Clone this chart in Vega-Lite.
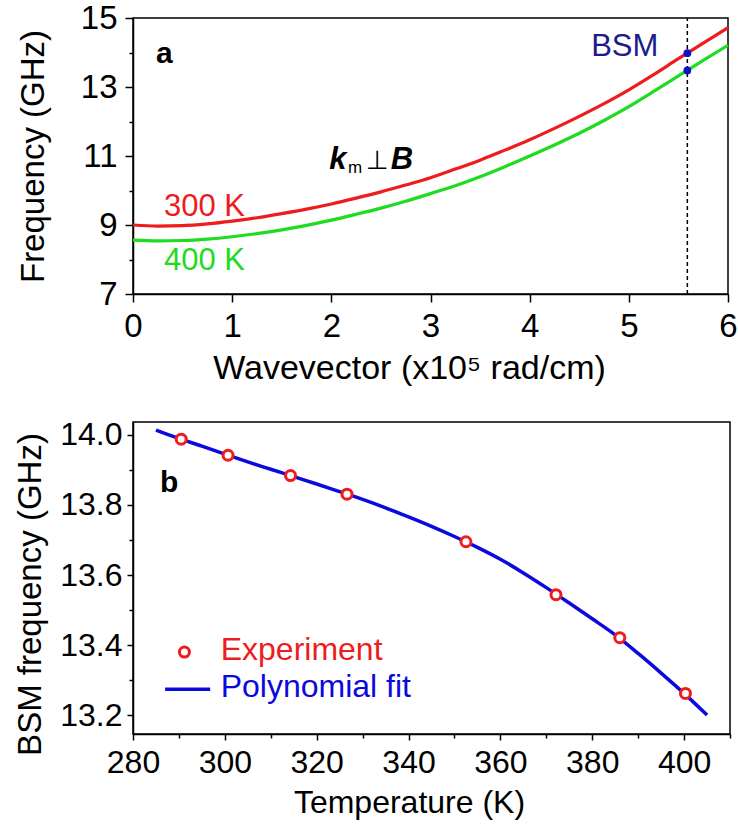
{
  "$schema": "https://vega.github.io/schema/vega-lite/v6.json",
  "bounds": "flush",
  "spacing": 128,
  "padding": {"top": 1, "left": 13, "right": 0, "bottom": 2},
  "config": {
    "font": "Liberation Sans",
    "view": {"stroke": "black", "strokeWidth": 1.5},
    "axis": {
      "grid": false, "domainColor": "black", "tickColor": "black", "labelColor": "black", "titleColor": "black",
      "domainWidth": 1.5, "tickWidth": 1.5, "labelFont": "Liberation Sans", "titleFont": "Liberation Sans",
      "titleFontWeight": "normal", "labelFlush": false, "labelOverlap": false
    }
  },
  "datasets": {
    "curves": [
      {"k": 0, "f": 9.00, "T": "300 K"}, {"k": 0.25, "f": 8.97, "T": "300 K"}, {"k": 0.5, "f": 8.98, "T": "300 K"},
      {"k": 0.75, "f": 9.03, "T": "300 K"}, {"k": 1, "f": 9.11, "T": "300 K"}, {"k": 1.25, "f": 9.21, "T": "300 K"},
      {"k": 1.5, "f": 9.33, "T": "300 K"}, {"k": 1.75, "f": 9.46, "T": "300 K"}, {"k": 2, "f": 9.61, "T": "300 K"},
      {"k": 2.25, "f": 9.78, "T": "300 K"}, {"k": 2.5, "f": 9.96, "T": "300 K"}, {"k": 2.75, "f": 10.16, "T": "300 K"},
      {"k": 3, "f": 10.37, "T": "300 K"}, {"k": 3.25, "f": 10.62, "T": "300 K"}, {"k": 3.5, "f": 10.88, "T": "300 K"},
      {"k": 3.75, "f": 11.17, "T": "300 K"}, {"k": 4, "f": 11.47, "T": "300 K"}, {"k": 4.25, "f": 11.80, "T": "300 K"},
      {"k": 4.5, "f": 12.15, "T": "300 K"}, {"k": 4.75, "f": 12.52, "T": "300 K"}, {"k": 5, "f": 12.92, "T": "300 K"},
      {"k": 5.25, "f": 13.36, "T": "300 K"}, {"k": 5.5, "f": 13.82, "T": "300 K"}, {"k": 5.75, "f": 14.27, "T": "300 K"},
      {"k": 6, "f": 14.72, "T": "300 K"},
      {"k": 0, "f": 8.56, "T": "400 K"}, {"k": 0.25, "f": 8.54, "T": "400 K"}, {"k": 0.5, "f": 8.55, "T": "400 K"},
      {"k": 0.75, "f": 8.59, "T": "400 K"}, {"k": 1, "f": 8.66, "T": "400 K"}, {"k": 1.25, "f": 8.75, "T": "400 K"},
      {"k": 1.5, "f": 8.86, "T": "400 K"}, {"k": 1.75, "f": 8.99, "T": "400 K"}, {"k": 2, "f": 9.14, "T": "400 K"},
      {"k": 2.25, "f": 9.31, "T": "400 K"}, {"k": 2.5, "f": 9.49, "T": "400 K"}, {"k": 2.75, "f": 9.69, "T": "400 K"},
      {"k": 3, "f": 9.91, "T": "400 K"}, {"k": 3.25, "f": 10.14, "T": "400 K"}, {"k": 3.5, "f": 10.40, "T": "400 K"},
      {"k": 3.75, "f": 10.69, "T": "400 K"}, {"k": 4, "f": 11.00, "T": "400 K"}, {"k": 4.25, "f": 11.32, "T": "400 K"},
      {"k": 4.5, "f": 11.66, "T": "400 K"}, {"k": 4.75, "f": 12.03, "T": "400 K"}, {"k": 5, "f": 12.43, "T": "400 K"},
      {"k": 5.25, "f": 12.87, "T": "400 K"}, {"k": 5.5, "f": 13.32, "T": "400 K"}, {"k": 5.75, "f": 13.77, "T": "400 K"},
      {"k": 6, "f": 14.21, "T": "400 K"}
    ],
    "fit": [
      {"T": 285, "F": 14.014}, {"T": 290, "F": 13.990}, {"T": 295, "F": 13.968}, {"T": 300, "F": 13.945},
      {"T": 305, "F": 13.923}, {"T": 310, "F": 13.902}, {"T": 315, "F": 13.881}, {"T": 320, "F": 13.860},
      {"T": 325, "F": 13.838}, {"T": 330, "F": 13.816}, {"T": 335, "F": 13.792}, {"T": 340, "F": 13.766},
      {"T": 345, "F": 13.739}, {"T": 350, "F": 13.710}, {"T": 355, "F": 13.679}, {"T": 360, "F": 13.645},
      {"T": 365, "F": 13.606}, {"T": 370, "F": 13.564}, {"T": 375, "F": 13.520}, {"T": 380, "F": 13.475},
      {"T": 385, "F": 13.429}, {"T": 390, "F": 13.376}, {"T": 395, "F": 13.320}, {"T": 400, "F": 13.262},
      {"T": 405, "F": 13.200}
    ],
    "experiment": [
      {"T": 290.5, "F": 13.988}, {"T": 300.7, "F": 13.942}, {"T": 314.3, "F": 13.884}, {"T": 326.6, "F": 13.831},
      {"T": 352.5, "F": 13.695}, {"T": 372.1, "F": 13.544}, {"T": 386.0, "F": 13.421}, {"T": 400.3, "F": 13.262}
    ]
  },
  "vconcat": [
    {
      "width": 595,
      "height": 276,
      "encoding": {
        "x": {
          "field": "k", "type": "quantitative",
          "scale": {"domain": [0, 6], "nice": false, "zero": false},
          "axis": {
            "title": "Wavevector (x10⁵ rad/cm)",
            "values": [0, 0.5, 1, 1.5, 2, 2.5, 3, 3.5, 4, 4.5, 5, 5.5, 6],
            "format": "d",
            "labelExpr": "datum.value % 1 == 0 ? datum.label : ''",
            "tickSize": {"condition": {"test": "datum.value % 1 != 0", "value": 4}, "value": 8},
            "labelFontSize": 33, "titleFontSize": 34, "labelPadding": 8, "titlePadding": 8,
            "titleX": 276, "titleAnchor": "middle", "titleAlign": "center"
          }
        },
        "y": {
          "field": "f", "type": "quantitative",
          "scale": {"domain": [7, 15], "nice": false, "zero": false},
          "axis": {
            "title": "Frequency (GHz)",
            "values": [7, 8, 9, 10, 11, 12, 13, 14, 15],
            "format": "d",
            "labelExpr": "datum.value % 2 == 1 ? datum.label : ''",
            "tickSize": {"condition": {"test": "datum.value % 2 == 0", "value": 4}, "value": 8},
            "labelFontSize": 33, "titleFontSize": 33, "labelPadding": 8, "titlePadding": 30
          }
        }
      },
      "layer": [
        {
          "data": {"name": "curves"},
          "mark": {"type": "line", "strokeWidth": 3.2, "interpolate": "monotone"},
          "encoding": {
            "color": {"field": "T", "type": "nominal", "scale": {"domain": ["300 K", "400 K"], "range": ["#ee1c1c", "#1edc1e"]}, "legend": null}
          }
        },
        {
          "data": {"values": [{"k": 5.59, "f": 7, "f2": 15}]},
          "mark": {"type": "rule", "strokeDash": [4, 3], "strokeWidth": 1.5, "color": "black"},
          "encoding": {"y2": {"field": "f2"}}
        },
        {
          "data": {"values": [{"k": 5.59, "f": 13.98}, {"k": 5.59, "f": 13.48}]},
          "mark": {"type": "point", "filled": true, "size": 60, "color": "#1010c8", "opacity": 1}
        },
        {
          "data": {"values": [{"k": 0.232, "f": 13.70, "label": "a"}]},
          "mark": {"type": "text", "align": "left", "baseline": "alphabetic", "fontSize": 30, "fontWeight": "bold", "color": "black"},
          "encoding": {"text": {"field": "label"}}
        },
        {
          "data": {"values": [{"k": 4.62, "f": 13.90, "label": "BSM"}]},
          "mark": {"type": "text", "align": "left", "baseline": "alphabetic", "fontSize": 31, "color": "#1c1c8c"},
          "encoding": {"text": {"field": "label"}}
        },
        {
          "data": {"values": [{"k": 0.313, "f": 9.26, "label": "300 K"}]},
          "mark": {"type": "text", "align": "left", "baseline": "alphabetic", "fontSize": 31, "color": "#ee1c1c"},
          "encoding": {"text": {"field": "label"}}
        },
        {
          "data": {"values": [{"k": 0.313, "f": 7.70, "label": "400 K"}]},
          "mark": {"type": "text", "align": "left", "baseline": "alphabetic", "fontSize": 31, "color": "#1edc1e"},
          "encoding": {"text": {"field": "label"}}
        },
        {
          "data": {"values": [{"k": 1.98, "f": 10.62, "label": "k"}, {"k": 2.60, "f": 10.62, "label": "B"}]},
          "mark": {"type": "text", "align": "left", "baseline": "alphabetic", "fontSize": 31, "fontWeight": "bold", "fontStyle": "italic", "color": "black"},
          "encoding": {"text": {"field": "label"}}
        },
        {
          "data": {"values": [{"k": 2.168, "f": 10.51, "label": "m"}]},
          "mark": {"type": "text", "align": "left", "baseline": "alphabetic", "fontSize": 17, "color": "black"},
          "encoding": {"text": {"field": "label"}}
        },
        {
          "data": {"values": [{"k": 2.35, "f": 10.62, "label": "⊥"}]},
          "mark": {"type": "text", "align": "left", "baseline": "alphabetic", "fontSize": 26, "font": "DejaVu Sans", "color": "black"},
          "encoding": {"text": {"field": "label"}}
        }
      ]
    },
    {
      "width": 597,
      "height": 312,
      "encoding": {
        "x": {
          "field": "T", "type": "quantitative",
          "scale": {"domain": [280, 410], "nice": false, "zero": false},
          "axis": {
            "title": "Temperature (K)",
            "values": [280, 290, 300, 310, 320, 330, 340, 350, 360, 370, 380, 390, 400, 410],
            "labelExpr": "datum.value % 20 == 0 ? datum.label : ''",
            "tickSize": {"condition": {"test": "datum.value % 20 != 0", "value": 4}, "value": 6},
            "labelFontSize": 32, "titleFontSize": 32, "labelPadding": 7, "titlePadding": 9,
            "titleX": 276, "titleAnchor": "middle", "titleAlign": "center"
          }
        },
        "y": {
          "field": "F", "type": "quantitative",
          "scale": {"domain": [13.146, 14.037], "nice": false, "zero": false},
          "axis": {
            "title": "BSM frequency (GHz)",
            "values": [13.2, 13.3, 13.4, 13.5, 13.6, 13.7, 13.8, 13.9, 14.0],
            "format": ".1f",
            "labelExpr": "round(datum.value * 10) % 2 == 0 ? datum.label : ''",
            "tickSize": {"condition": {"test": "round(datum.value * 10) % 2 != 0", "value": 4}, "value": 6},
            "labelFontSize": 32, "titleFontSize": 33, "labelPadding": 5, "titlePadding": 12,
            "titleY": 172, "titleAnchor": "middle", "titleAlign": "center"
          }
        }
      },
      "layer": [
        {
          "data": {"name": "fit"},
          "mark": {"type": "line", "strokeWidth": 3.5, "color": "#0a0adc", "interpolate": "monotone"}
        },
        {
          "data": {"name": "experiment"},
          "mark": {"type": "point", "shape": "circle", "size": 100, "filled": true, "fill": "white", "stroke": "#ee1c1c", "strokeWidth": 3, "opacity": 1}
        },
        {
          "data": {"values": [{"T": 291.2, "F": 13.38}]},
          "mark": {"type": "point", "shape": "circle", "size": 100, "filled": true, "fill": "white", "stroke": "#ee1c1c", "strokeWidth": 3, "opacity": 1}
        },
        {
          "data": {"values": [{"T": 287.0, "F": 13.274}, {"T": 296.8, "F": 13.274}]},
          "mark": {"type": "line", "strokeWidth": 3.5, "color": "#0a0adc"}
        },
        {
          "data": {"values": [{"T": 299.1, "F": 13.357, "label": "Experiment"}]},
          "mark": {"type": "text", "align": "left", "baseline": "alphabetic", "fontSize": 32, "color": "#ee1c1c"},
          "encoding": {"text": {"field": "label"}}
        },
        {
          "data": {"values": [{"T": 299.1, "F": 13.251, "label": "Polynomial fit"}]},
          "mark": {"type": "text", "align": "left", "baseline": "alphabetic", "fontSize": 32, "color": "#0a0adc"},
          "encoding": {"text": {"field": "label"}}
        },
        {
          "data": {"values": [{"T": 285.9, "F": 13.837, "label": "b"}]},
          "mark": {"type": "text", "align": "left", "baseline": "alphabetic", "fontSize": 30, "fontWeight": "bold", "color": "black"},
          "encoding": {"text": {"field": "label"}}
        }
      ]
    }
  ]
}
